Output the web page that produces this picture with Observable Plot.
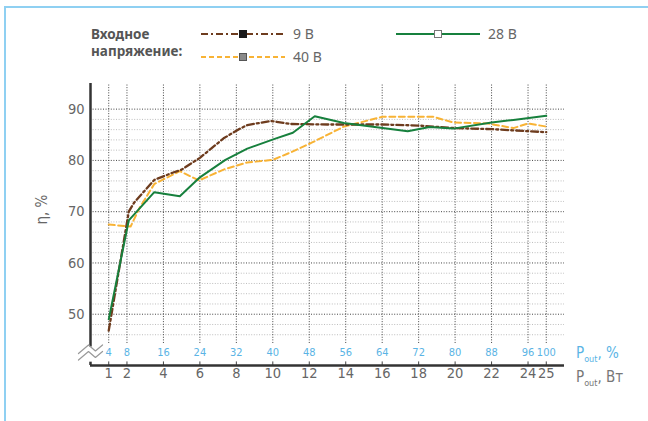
<!DOCTYPE html>
<html><head><meta charset="utf-8">
<script src="https://cdn.jsdelivr.net/npm/d3@7"></script>
<script src="https://cdn.jsdelivr.net/npm/@observablehq/plot@0.6"></script>
<style>
body{margin:0;background:#fff;}
#wrap{position:relative;width:648px;height:421px;overflow:hidden;font-family:"Noto Sans",sans-serif;}
#plot{position:absolute;left:0;top:0;}
.frameL{position:absolute;left:4px;top:6px;width:1.5px;height:415px;background:#8fd0f2;}
.frameT{position:absolute;left:4px;top:6px;width:644px;height:1.5px;background:#8fd0f2;}
.abs{position:absolute;white-space:nowrap;}
.ttl{left:91px;top:26px;font-weight:bold;font-size:13.5px;line-height:17px;color:#555;}
.lab{font-size:14px;line-height:16px;color:#666;}
.pl{font-family:"Liberation Sans Narrow","DejaVu Sans Condensed",sans-serif;font-size:15px;line-height:18px;}
.pl sub{font-size:9px;vertical-align:-4px;line-height:0;}
</style></head>
<body>
<div id="wrap">
  <div class="frameL"></div><div class="frameT"></div>
  <div id="plot"></div>
  <div id="legend"></div>
</div>
<script>
// ---- data ----
const seriesNames = ["9 В", "28 В", "40 В"];
const seriesColors = ["#6e3c1e", "#17803d", "#f8b335"];
const x9  = [1, 2.1, 2.4, 3.5, 4.5, 5.0, 6.0, 7.3, 8.1, 8.6, 9.9, 11.0, 13.0, 16.0, 18.0, 20.0, 22.0, 24.0, 25.0];
const y9  = [46.8, 70.0, 71.8, 76.2, 77.6, 78.2, 80.5, 84.3, 86.0, 86.9, 87.7, 87.1, 87.0, 87.0, 86.8, 86.3, 86.1, 85.7, 85.5];
const x28 = [1, 2.1, 3.5, 4.9, 6.0, 7.4, 8.6, 10.1, 11.1, 12.3, 13.9, 17.4, 18.6, 19.9, 22.0, 23.2, 25.0];
const y28 = [49.0, 68.3, 73.8, 73.0, 76.7, 80.1, 82.3, 84.2, 85.4, 88.6, 87.3, 85.7, 86.5, 86.2, 87.4, 87.9, 88.7];
const x40 = [1, 2.2, 2.7, 3.5, 4.9, 5.95, 7.3, 8.6, 10.0, 11.0, 12.1, 13.9, 16.0, 18.8, 19.9, 21.8, 23.2, 24.0, 25.0];
const y40 = [67.5, 67.1, 70.8, 75.4, 77.9, 76.1, 78.2, 79.6, 80.1, 81.6, 83.4, 86.6, 88.5, 88.5, 87.4, 87.2, 86.3, 87.2, 86.6];
const wattTicks = [1, 2, 4, 6, 8, 10, 12, 14, 16, 18, 20, 22, 24, 25];
const percentTicks = [4, 8, 16, 24, 32, 40, 48, 56, 64, 72, 80, 88, 96, 100];
const yMajor = [50, 60, 70, 80, 90];
const yMinor = [46, 48, 52, 54, 56, 58, 62, 64, 66, 68, 72, 74, 76, 78, 82, 84, 86, 88];
const breakX = [-0.66, -0.11, 0.27, 0.66];
const breakUpper = [42.34, 44.0, 42.83, 44.0];
const breakLower = [41.07, 42.73, 41.56, 42.73];

const rows = (xs, ys) => xs.map((x, i) => ({x, y: ys[i]}));
const d9 = rows(x9, y9), d28 = rows(x28, y28), d40 = rows(x40, y40);
const pct = wattTicks.map((w, i) => ({w, p: percentTicks[i]}));
const brk = [rows(breakX, breakUpper), rows(breakX, breakLower)];

const tickFont = '"Liberation Sans Narrow","DejaVu Sans Condensed",sans-serif';
const dot = "1,1.6";

const chart = Plot.plot({
  width: 648, height: 421,
  marginTop: 83, marginBottom: 56, marginLeft: 90, marginRight: 84,
  x: {domain: [0, 26], axis: null},
  y: {domain: [40, 95], axis: null},
  style: {background: "transparent", fontFamily: tickFont},
  marks: [
    Plot.ruleY(yMinor, {x1: 0, x2: 26, stroke: "#bdbdbd", strokeDasharray: dot, strokeWidth: 1}),
    Plot.ruleY(yMajor, {x1: 0, x2: 26, stroke: "#444", strokeDasharray: dot, strokeWidth: 1}),
    Plot.ruleX(wattTicks, {y1: 44.3, y2: 95, stroke: "#444", strokeDasharray: dot, strokeWidth: 1}),
    Plot.ruleX(wattTicks, {y1: 40, y2: 40.7, stroke: "#444", strokeWidth: 1}),
    Plot.line(d40, {x: "x", y: "y", stroke: seriesColors[2], strokeWidth: 2, strokeDasharray: "6,3.5"}),
    Plot.line(d9, {x: "x", y: "y", stroke: seriesColors[0], strokeWidth: 2.3, strokeDasharray: "7,3,2,3"}),
    Plot.line(d28, {x: "x", y: "y", stroke: seriesColors[1], strokeWidth: 2}),
    Plot.ruleX([0], {y1: 43.6, y2: 95, stroke: "#333", strokeWidth: 2.5}),
    Plot.ruleX([0], {y1: 40, y2: 40.65, stroke: "#333", strokeWidth: 2.5}),
    Plot.ruleY([40], {x1: 0, x2: 26, stroke: "#333", strokeWidth: 2.5}),
    ...brk.map(b => Plot.line(b, {x: "x", y: "y", stroke: "#999", strokeWidth: 1.2})),
    Plot.text(yMajor, {x: 0, y: d => d, text: d => String(d), textAnchor: "end", dx: -6, fontSize: 14.5, fill: "#666"}),
    Plot.text(wattTicks, {x: d => d, frameAnchor: "bottom", dy: 12, text: d => String(d), fontSize: 14.5, fill: "#666"}),
    Plot.text(pct, {x: "w", frameAnchor: "bottom", dy: -9.5, text: d => String(d.p), fontSize: 11, fill: "#5ab4e5", stroke: "white", strokeWidth: 3}),
    Plot.text(["η, %"], {frameAnchor: "left", dx: -48, rotate: -90, fontSize: 15, fill: "#666"})
  ]
});
document.getElementById("plot").appendChild(chart);

// ---- legend (HTML above the plot) ----
const lg = document.getElementById("legend");
const dash = ["7,3,2,3", null, "5,3"];
const markFill = ["#1a1a1a", "#ffffff", "#8a8a8a"];
const markStroke = ["#1a1a1a", "#777", "#555"];
const pos = [[201, 29, 293], [396, 29, 488], [201, 52, 293]];
let html = `<div class="abs ttl">Входное<br>напряжение:</div>`;
seriesNames.forEach((name, i) => {
  const [sx, sy, lx] = pos[i];
  html += `<svg class="abs" style="left:${sx}px;top:${sy}px" width="84" height="10">
    <line x1="0" x2="84" y1="5" y2="5" stroke="${seriesColors[i]}" stroke-width="2" ${dash[i] ? `stroke-dasharray="${dash[i]}"` : ""}/>
    <rect x="38.5" y="1.5" width="7" height="7" fill="${markFill[i]}" stroke="${markStroke[i]}" stroke-width="1"/></svg>
    <div class="abs lab" style="left:${lx}px;top:${sy - 3}px">${name}</div>`;
});
html += `<div class="abs pl" style="left:576px;top:344px;color:#5ab4e5">P<sub>out</sub>, %</div>`;
html += `<div class="abs pl" style="left:576px;top:368px;color:#777">P<sub>out</sub>, Вт</div>`;
lg.innerHTML = html;
</script>
</body></html>
